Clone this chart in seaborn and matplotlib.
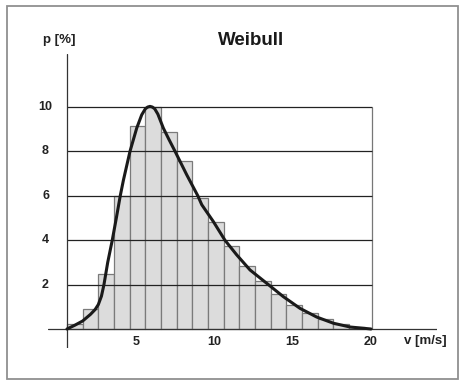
import numpy as np
import matplotlib
matplotlib.use("Agg")
import matplotlib.pyplot as plt
import matplotlib.patches as mpatches
import matplotlib.transforms as mtransforms
import seaborn as sns

# histogram of wind speed, 1 m/s bins
bin_start = [0, 1, 2, 3, 4, 5, 6, 7, 8, 9, 10, 11, 12, 13, 14, 15, 16, 17, 18]
bar_p = [0.21, 0.88, 2.48, 5.97, 9.15, 10.0, 8.87, 7.56, 5.9, 4.84,
         3.74, 2.86, 2.16, 1.58, 1.10, 0.72, 0.44, 0.22, 0.09]

# weibull curve
curve_v = [0, 0.5, 1.0, 1.5, 1.8, 2.0, 2.2, 2.36, 2.6, 2.89, 3.15, 3.4, 3.6,
           4.02, 4.45, 4.77, 5.0, 5.15, 5.3, 5.45, 5.6, 5.8, 6.15, 6.5,
           6.9, 7.64, 8.35, 8.6, 9.34, 10.08, 10.83, 11.68, 12.85, 13.8,
           14.87, 15.93, 17.0, 18.06, 19.4]
curve_p = [0, 0.17, 0.36, 0.66, 0.88, 1.1, 1.48, 2.0, 3.0, 4.0, 5.0, 6.0, 6.7,
           8.0, 9.05, 9.65, 9.92, 10.0, 10.03, 10.0, 9.92, 9.68, 9.05, 8.55,
           8.0, 6.95, 6.0, 5.6, 4.84, 4.0, 3.34, 2.66, 2.0, 1.46,
           0.93, 0.54, 0.26, 0.09, 0.0]

y_ticks = [2, 4, 6, 8, 10]
x_ticks = [5, 10, 15, 20]

sns.set_style("white")
plt.rcParams['font.family'] = ['Liberation Sans', 'DejaVu Sans']

W, H = 465, 385
fig = plt.figure(figsize=(W / 100, H / 100), dpi=100)
fig.patch.set_facecolor('white')

# outer frame
fig.patches.append(mpatches.Rectangle((7 / W, 1 - 379 / H), 451 / W, 373 / H,
                                      transform=fig.transFigure, fill=False,
                                      edgecolor='#909090', linewidth=1.3))

ax = fig.add_axes([48 / W, 1 - 348 / H, 389 / W, 294 / H])
ax.set_xlim(-1.21, 23.61)
ax.set_ylim(-0.856, 12.39)
for s in ax.spines.values():
    s.set_visible(False)
ax.set_xticks([])
ax.set_yticks([])

x_end = 19.46

# horizontal grid + right border
ax.vlines(x_end, 0, 10, color='#777777', linewidth=0.9, zorder=1)

edges = bin_start + [bin_start[-1] + 1]
sns.histplot(x=np.array(bin_start) + 0.5, weights=bar_p, bins=edges, ax=ax,
             color='#dcdcdc', edgecolor='#7a7a7a', linewidth=0.9, alpha=1,
             zorder=2)
# grid lines show through the bars
ax.hlines(y_ticks, 0, x_end, color='#222222', linewidth=0.9, zorder=3)

sns.lineplot(x=curve_v, y=curve_p, ax=ax, color='#1a1a1a', linewidth=2.2,
             estimator=None, zorder=5)

# axis lines
ax.axhline(0, color='#333333', linewidth=0.9, zorder=4)
ax.axvline(0, color='#333333', linewidth=0.9, zorder=4)
ax.set_xlabel('')
ax.set_ylabel('')

tf_y = mtransforms.blended_transform_factory(ax.transAxes, ax.transData)
for t in y_ticks:
    ax.text(-0.0064, t, str(t), transform=tf_y, ha='center', va='center',
            fontsize=9, fontweight='bold', color='#222222', clip_on=False)

tf_x = mtransforms.blended_transform_factory(ax.transData, ax.transAxes)
for t in x_ticks:
    ax.text(t - 0.6, 0.022, str(t), transform=tf_x, ha='center', va='center',
            fontsize=9, fontweight='bold', color='#222222')

fig.text(425 / W, 1 - 341 / H, 'v [m/s]', ha='center', va='center',
         fontsize=9.5, fontweight='bold', color='#222222')
fig.text(43 / W, 1 - 40.5 / H, 'p [%]', ha='left', va='center',
         fontsize=9.5, fontweight='bold', color='#222222')
fig.text(251 / W, 1 - 40.5 / H, 'Weibull', ha='center', va='center',
         fontsize=13.5, fontweight='bold', color='#1a1a1a')

fig.savefig('out.png', dpi=100)
